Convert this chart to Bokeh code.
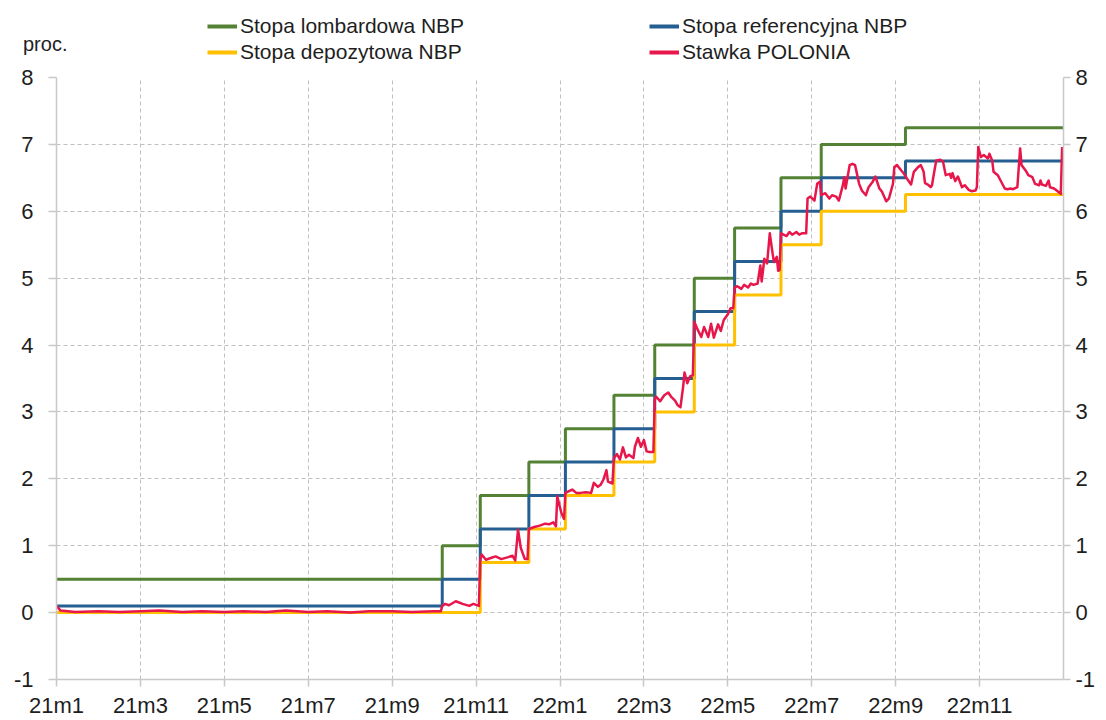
import calendar
from bokeh.plotting import figure
from bokeh.layouts import column
from bokeh.models import (Range1d, LinearAxis, FixedTicker, Legend, LegendItem, Label)
from bokeh.embed import file_html
from bokeh.resources import INLINE

# ---------------- data ----------------
# NBP policy-rate decision dates (rate valid from that day on)
rate_dates = ["2021-01-01", "2021-10-07", "2021-11-04", "2021-12-09", "2022-01-05",
              "2022-02-09", "2022-03-09", "2022-04-07", "2022-05-06", "2022-06-09",
              "2022-07-08", "2022-09-08"]
rate_end = "2023-01-01"
lombard = [0.50, 1.00, 1.75, 2.25, 2.75, 3.25, 4.00, 5.00, 5.75, 6.50, 7.00, 7.25]
reference = [0.10, 0.50, 1.25, 1.75, 2.25, 2.75, 3.50, 4.50, 5.25, 6.00, 6.50, 6.75]
deposit = [0.00, 0.00, 0.75, 1.25, 1.75, 2.25, 3.00, 4.00, 4.75, 5.50, 6.00, 6.25]

polonia_dates = [
    "2021-01-01", "2021-01-04", "2021-01-15", "2021-02-01", "2021-02-15", "2021-03-01",
    "2021-03-15", "2021-04-01", "2021-04-15", "2021-05-01", "2021-05-15", "2021-06-01",
    "2021-06-15", "2021-07-01", "2021-07-15", "2021-08-01", "2021-08-15", "2021-09-01",
    "2021-09-15", "2021-10-01", "2021-10-06", "2021-10-07", "2021-10-09", "2021-10-12",
    "2021-10-17", "2021-10-22", "2021-10-27", "2021-10-30", "2021-11-03", "2021-11-04",
    "2021-11-05", "2021-11-08", "2021-11-12", "2021-11-15", "2021-11-19", "2021-11-24",
    "2021-11-27", "2021-11-29", "2021-12-01", "2021-12-03", "2021-12-06", "2021-12-08",
    "2021-12-09", "2021-12-13", "2021-12-17", "2021-12-21", "2021-12-24", "2021-12-27",
    "2021-12-29", "2021-12-30", "2022-01-02", "2022-01-04", "2022-01-05", "2022-01-10",
    "2022-01-13", "2022-01-16", "2022-01-20", "2022-01-24", "2022-01-26", "2022-01-29",
    "2022-01-31", "2022-02-02", "2022-02-04", "2022-02-05", "2022-02-08", "2022-02-09",
    "2022-02-11", "2022-02-13", "2022-02-15", "2022-02-17", "2022-02-19", "2022-02-22",
    "2022-02-23", "2022-02-25", "2022-02-27", "2022-03-01", "2022-03-03", "2022-03-05",
    "2022-03-08", "2022-03-09", "2022-03-10", "2022-03-13", "2022-03-16", "2022-03-19",
    "2022-03-21", "2022-03-24", "2022-03-26", "2022-03-28", "2022-03-30", "2022-03-31",
    "2022-04-02", "2022-04-04", "2022-04-06", "2022-04-07", "2022-04-09", "2022-04-12",
    "2022-04-14", "2022-04-17", "2022-04-19", "2022-04-21", "2022-04-24", "2022-04-26",
    "2022-04-28", "2022-05-01", "2022-05-03", "2022-05-05", "2022-05-06", "2022-05-08",
    "2022-05-11", "2022-05-13", "2022-05-16", "2022-05-18", "2022-05-20", "2022-05-23",
    "2022-05-25", "2022-05-26", "2022-05-28", "2022-05-30", "2022-06-01", "2022-06-03",
    "2022-06-04", "2022-06-06", "2022-06-07", "2022-06-08", "2022-06-09", "2022-06-13",
    "2022-06-15", "2022-06-17", "2022-06-20", "2022-06-22", "2022-06-24", "2022-06-27",
    "2022-06-28", "2022-06-30", "2022-07-03", "2022-07-05", "2022-07-07", "2022-07-08",
    "2022-07-11", "2022-07-14", "2022-07-16", "2022-07-19", "2022-07-21", "2022-07-24",
    "2022-07-25", "2022-07-26", "2022-07-29", "2022-07-31", "2022-08-02", "2022-08-05",
    "2022-08-07", "2022-08-10", "2022-08-12", "2022-08-15", "2022-08-17", "2022-08-20",
    "2022-08-22", "2022-08-25", "2022-08-27", "2022-08-30", "2022-08-31", "2022-09-02",
    "2022-09-05", "2022-09-07", "2022-09-09", "2022-09-12", "2022-09-14", "2022-09-17",
    "2022-09-19", "2022-09-21", "2022-09-22", "2022-09-24", "2022-09-26", "2022-09-27",
    "2022-09-28", "2022-09-30", "2022-10-03", "2022-10-05", "2022-10-07", "2022-10-10",
    "2022-10-11", "2022-10-12", "2022-10-14", "2022-10-16", "2022-10-19", "2022-10-21",
    "2022-10-24", "2022-10-26", "2022-10-29", "2022-10-30", "2022-10-31", "2022-11-02",
    "2022-11-04", "2022-11-07", "2022-11-08", "2022-11-10", "2022-11-11", "2022-11-14",
    "2022-11-16", "2022-11-19", "2022-11-21", "2022-11-23", "2022-11-25", "2022-11-28",
    "2022-11-30", "2022-12-01", "2022-12-04", "2022-12-06", "2022-12-09", "2022-12-11",
    "2022-12-14", "2022-12-15", "2022-12-16", "2022-12-19", "2022-12-21", "2022-12-22",
    "2022-12-25", "2022-12-27", "2022-12-30", "2022-12-31",
]
polonia = [
    0.10, 0.03, 0.01, 0.02, 0.01, 0.02,
    0.03, 0.01, 0.02, 0.01, 0.02, 0.01,
    0.03, 0.01, 0.02, 0.00, 0.02, 0.02,
    0.01, 0.02, 0.02, 0.10, 0.13, 0.11,
    0.17, 0.13, 0.10, 0.13, 0.10, 0.79,
    0.87, 0.79, 0.82, 0.84, 0.80, 0.83,
    0.85, 0.78, 1.24, 0.97, 0.80, 0.80,
    1.25, 1.28, 1.30, 1.33, 1.32, 1.35,
    1.29, 1.74, 1.49, 1.40, 1.79, 1.84,
    1.79, 1.79, 1.80, 1.79, 1.94, 1.88,
    1.91, 1.99, 2.13, 1.96, 1.93, 2.31,
    2.37, 2.29, 2.47, 2.32, 2.36, 2.31,
    2.48, 2.61, 2.48, 2.58, 2.41, 2.40,
    2.40, 3.18, 3.23, 3.16, 3.25, 3.29,
    3.23, 3.17, 3.10, 3.07, 3.38, 3.59,
    3.43, 3.53, 3.55, 4.35, 4.25, 4.12,
    4.27, 4.12, 4.32, 4.11, 4.31, 4.21,
    4.37, 4.46, 4.55, 4.55, 4.86, 4.88,
    4.84, 4.90, 4.86, 4.92, 4.90, 4.92,
    5.19, 4.95, 5.29, 5.22, 5.67, 5.37,
    5.24, 5.32, 5.11, 5.12, 5.67, 5.63,
    5.69, 5.65, 5.69, 5.65, 5.67, 5.67,
    6.19, 6.22, 6.16, 6.41, 6.44, 6.24,
    6.27, 6.19, 6.24, 6.22, 6.16, 6.39,
    6.51, 6.34, 6.69, 6.71, 6.69, 6.41,
    6.31, 6.24, 6.36, 6.44, 6.52, 6.34,
    6.29, 6.15, 6.19, 6.41, 6.66, 6.69,
    6.61, 6.56, 6.49, 6.40, 6.59, 6.66,
    6.69, 6.59, 6.42, 6.40, 6.36, 6.39,
    6.52, 6.76, 6.77, 6.74, 6.54, 6.56,
    6.50, 6.57, 6.45, 6.52, 6.36, 6.39,
    6.32, 6.30, 6.31, 6.36, 6.96, 6.81,
    6.84, 6.79, 6.86, 6.76, 6.59, 6.54,
    6.46, 6.34, 6.33, 6.34, 6.33, 6.36,
    6.94, 6.69, 6.61, 6.54, 6.51, 6.41,
    6.39, 6.46, 6.40, 6.38, 6.46, 6.36,
    6.34, 6.31, 6.26, 6.96,
]

tick_months = [0, 2, 4, 6, 8, 10, 12, 14, 16, 18, 20, 22]
tick_labels = ["21m1", "21m3", "21m5", "21m7", "21m9", "21m11",
               "22m1", "22m3", "22m5", "22m7", "22m9", "22m11"]
y_ticks = [-1, 0, 1, 2, 3, 4, 5, 6, 7, 8]
y_tick_labels = ["-1", "0", "1", "2", "3", "4", "5", "6", "7", "8"]

names = ["Stopa lombardowa NBP", "Stopa referencyjna NBP",
         "Stopa depozytowa NBP", "Stawka POLONIA"]
unit_label = "proc."


# ---------------- helpers ----------------
def month_pos(s):
    y, mo, d = (int(t) for t in s.split("-"))
    return (y - 2021) * 12 + (mo - 1) + (d - 1) / calendar.monthrange(y, mo)[1]


rate_x = [month_pos(d) for d in rate_dates] + [month_pos(rate_end)]


def extend(vals):
    return list(vals) + [vals[-1]]


pol_x = [month_pos(d) for d in polonia_dates]

GREEN = "#548235"
BLUE = "#255E91"
YELLOW = "#FFC000"
RED = "#E8174B"
GRID = "#c0c0c0"
AXIS = "#c8c8c8"
TEXT = "#1e1e1e"
FONT = "Liberation Sans"

W = 1106
HEAD_H = 66
MAIN_H = 720 - HEAD_H


def no_frame_align(fig):
    try:
        fig.frame_align = False
    except Exception:
        pass


# ---------------- header (unit label + legend) ----------------
hdr = figure(width=W, height=HEAD_H, output_backend="svg", toolbar_location=None,
             x_range=Range1d(0, W), y_range=Range1d(HEAD_H, 0),
             x_axis_location=None, y_axis_location=None,
             min_border=0, min_border_left=0, min_border_right=0,
             min_border_top=0, min_border_bottom=0)
hdr.outline_line_color = None
hdr.grid.visible = False
no_frame_align(hdr)

NAN = float("nan")
h_lom = hdr.line([NAN], [NAN], line_color=GREEN, line_width=4)
h_ref = hdr.line([NAN], [NAN], line_color=BLUE, line_width=4)
h_dep = hdr.line([NAN], [NAN], line_color=YELLOW, line_width=4)
h_pol = hdr.line([NAN], [NAN], line_color=RED, line_width=4)


def make_legend(items, loc):
    return Legend(items=items, location=loc, orientation="vertical",
                  glyph_width=30, glyph_height=24, label_height=24,
                  label_standoff=3, spacing=2, padding=0, margin=0,
                  border_line_color=None, background_fill_alpha=0,
                  label_text_font=FONT, label_text_font_size="21px",
                  label_text_color=TEXT)


leg1 = make_legend([LegendItem(label=names[0], renderers=[h_lom]),
                    LegendItem(label=names[2], renderers=[h_dep])], (207, 2))
leg2 = make_legend([LegendItem(label=names[1], renderers=[h_ref]),
                    LegendItem(label=names[3], renderers=[h_pol])], (649, 2))
hdr.add_layout(leg1, "center")
hdr.add_layout(leg2, "center")

hdr.add_layout(Label(x=22.5, y=43, text=unit_label, text_font=FONT,
                     text_font_size="20px", text_color=TEXT,
                     text_baseline="middle", text_align="left"))

# ---------------- main plot ----------------
p = figure(width=W, height=MAIN_H, output_backend="svg", toolbar_location=None,
           x_range=Range1d(0, 24), y_range=Range1d(-1, 8),
           min_border_left=56, min_border_right=43, min_border_top=11,
           min_border_bottom=40)
p.outline_line_color = None
no_frame_align(p)

p.xgrid.ticker = FixedTicker(ticks=tick_months)
p.ygrid.ticker = FixedTicker(ticks=y_ticks)
for g in (p.xgrid[0], p.ygrid[0]):
    g.grid_line_color = GRID
    g.grid_line_dash = "4 3"
    g.grid_line_width = 1

xa = p.xaxis[0]
xa.ticker = FixedTicker(ticks=tick_months, minor_ticks=[])
xa.major_label_overrides = {m: lab for m, lab in zip(tick_months, tick_labels)}
xa.axis_line_color = AXIS
xa.axis_line_width = 1.5
xa.major_tick_line_color = AXIS
xa.major_tick_line_width = 1.5
xa.major_tick_in = 0
xa.major_tick_out = 7
xa.minor_tick_line_color = None
xa.major_label_standoff = 6
xa.major_label_text_font = FONT
xa.major_label_text_font_size = "22px"
xa.major_label_text_color = TEXT

ya = p.yaxis[0]
ra = LinearAxis()
p.add_layout(ra, "right")
for ax, out, standoff in ((ya, 8, 15), (ra, 7, 5)):
    ax.ticker = FixedTicker(ticks=y_ticks, minor_ticks=[])
    ax.major_label_overrides = {t: lab for t, lab in zip(y_ticks, y_tick_labels)}
    ax.axis_line_color = AXIS
    ax.axis_line_width = 1.5
    ax.major_tick_line_color = AXIS
    ax.major_tick_line_width = 1.5
    ax.major_tick_in = 0
    ax.major_tick_out = out
    ax.minor_tick_line_color = None
    ax.major_label_standoff = standoff
    ax.major_label_text_font = FONT
    ax.major_label_text_font_size = "22px"
    ax.major_label_text_color = TEXT

p.step(rate_x, extend(lombard), mode="after", line_color=GREEN, line_width=3)
p.step(rate_x, extend(reference), mode="after", line_color=BLUE, line_width=3)
p.step(rate_x, extend(deposit), mode="after", line_color=YELLOW, line_width=3)
p.line(pol_x, polonia, line_color=RED, line_width=2.5, line_join="round")

layout = column(hdr, p, spacing=0)
open("out.html", "w").write(file_html(layout, INLINE))
